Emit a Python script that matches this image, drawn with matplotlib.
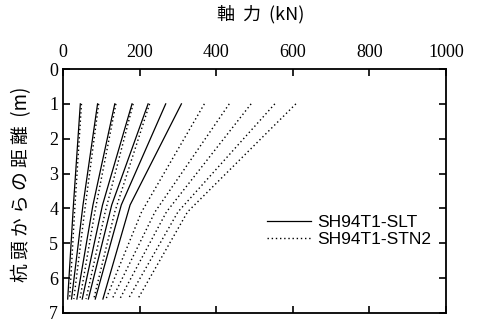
import matplotlib
matplotlib.use('Agg')
import matplotlib.pyplot as plt
from matplotlib.ticker import MultipleLocator

# depths (m) of the measuring points
depth_slt = [1.0, 3.9, 6.6]
depth_stn = [1.0, 4.1, 6.6]

# SH94T1-SLT, axial force (kN) per load step: top / kink / bottom
slt_top = [45, 90, 135, 180, 222, 268, 309]
slt_mid = [27, 52, 78, 103, 127, 152, 175]
slt_bot = [12, 22, 36, 50, 66, 84, 104]

# SH94T1-STN2
stn_top = [48, 93, 138, 183, 226, 369, 434, 491, 553, 608]
stn_mid = [30, 56, 83, 110, 135, 205, 240, 270, 300, 325]
stn_bot = [17, 28, 44, 60, 80, 112, 128, 148, 170, 195]

fig = plt.figure(figsize=(4.78, 3.24), dpi=100)
ax = fig.add_axes([0.132, 0.034, 0.801, 0.753])

for i in range(len(slt_top)):
    ax.plot([slt_top[i], slt_mid[i], slt_bot[i]], depth_slt, color='black', lw=0.9,
            label='SH94T1-SLT' if i == 0 else None)
for i in range(len(stn_top)):
    ax.plot([stn_top[i], stn_mid[i], stn_bot[i]], depth_stn, color='black', lw=1.0,
            linestyle=(0, (1, 2)), label='SH94T1-STN2' if i == 0 else None)

ax.set_xlim(0, 1000)
ax.set_ylim(7, 0)
ax.xaxis.tick_top()
ax.xaxis.set_major_locator(MultipleLocator(200))
ax.xaxis.set_minor_locator(MultipleLocator(100))
ax.yaxis.set_major_locator(MultipleLocator(1))
ax.yaxis.set_minor_locator(MultipleLocator(0.5))
ax.tick_params(which='both', direction='in', top=True, bottom=True, left=True, right=True,
               labelbottom=False, labeltop=True)
ax.tick_params(which='major', length=5, width=1.2)
ax.tick_params(which='minor', length=0, width=0)
ax.tick_params(axis='x', which='major', pad=6)
for lab in ax.get_xticklabels() + ax.get_yticklabels():
    lab.set_family('Liberation Serif')
    lab.set_fontsize(13)
for s in ax.spines.values():
    s.set_linewidth(1.3)

cjk = ['Noto Sans CJK JP', 'DejaVu Sans']
fig.text(0.545, 0.955, '軸  力  (kN)', family=cjk, fontsize=13, ha='center', va='center')
fig.text(0.046, 0.43, '杭 頭 か ら の 距 離  (m)', family=cjk, fontsize=13.5, rotation=90,
         ha='center', va='center')

leg = ax.legend(loc='center left', bbox_to_anchor=(0.515, 0.335), frameon=False, handlelength=2.5,
                handletextpad=0.35, labelspacing=0.12, borderaxespad=0,
                prop={'family': 'Liberation Sans', 'size': 12.5})

fig.savefig('out.png', dpi=100)
